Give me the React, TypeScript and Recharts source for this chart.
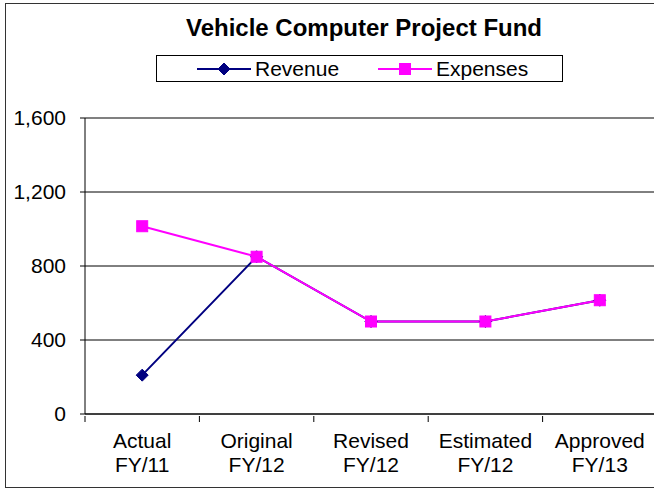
import { CartesianGrid, Legend, Line, LineChart, ReferenceLine, XAxis, YAxis } from 'recharts';

const categories = ['Actual FY/11', 'Original FY/12', 'Revised FY/12', 'Estimated FY/12', 'Approved FY/13'];
const revenue = [210, 850, 500, 500, 615];
const expenses = [1015, 850, 500, 500, 615];
const yTicks = [0, 400, 800, 1200, 1600];

const data = categories.map((name, i) => ({ name, revenue: revenue[i], expenses: expenses[i] }));

const font = '"Liberation Sans", Arial, sans-serif';
const navy = '#000080';
const magenta = '#FF00FF';

const Diamond = ({ cx, cy }: any) => {
    if (cx == null || cy == null) return null;
    const r = 6;
    return <polygon points={`${cx},${cy - r} ${cx + r},${cy} ${cx},${cy + r} ${cx - r},${cy}`} fill={navy} stroke={navy} />;
};

const Square = ({ cx, cy }: any) => {
    if (cx == null || cy == null) return null;
    const s = 11;
    return <rect x={cx - s / 2} y={cy - s / 2} width={s} height={s} fill={magenta} stroke={magenta} />;
};

const CategoryTick = ({ x, y, payload }: any) => {
    const [a, b] = String(payload.value).split(' ');
    const half = payload.offset ?? 0;
    return (
        <g>
            <line x1={x - half} y1={y - 6} x2={x - half} y2={y} stroke="#000" />
            <text x={x} y={y} textAnchor="middle" fontSize={21} fontFamily={font} fill="#000">
                <tspan x={x} dy={26}>{a}</tspan>
                <tspan x={x} dy={24}>{b}</tspan>
            </text>
        </g>
    );
};

const LegendBox = () => (
    <div
        style={{
            width: 405,
            height: 25,
            border: '1px solid #000',
            background: '#fff',
            position: 'relative',
        }}
    >
        <svg width={405} height={25} style={{ position: 'absolute', left: 0, top: 0 }}>
            <line x1={40} y1={13} x2={94} y2={13} stroke={navy} strokeWidth={2} />
            <Diamond cx={67} cy={13} />
            <text x={98} y={20} fontSize={21} fontFamily={font}>Revenue</text>
            <line x1={221} y1={13} x2={275} y2={13} stroke={magenta} strokeWidth={2} />
            <Square cx={248} cy={13} />
            <text x={279} y={20} fontSize={21} fontFamily={font}>Expenses</text>
        </svg>
    </div>
);

export default function App() {
    return (
        <div style={{ position: 'absolute', left: 0, top: 0, width: 654, height: 491, overflow: 'hidden', background: '#fff' }}>
            <div
                style={{
                    position: 'absolute',
                    left: 5,
                    top: 3,
                    width: 800,
                    height: 483,
                    border: '1px solid #333',
                }}
            />
            <div
                style={{
                    position: 'absolute',
                    left: 0,
                    top: 14,
                    width: 728,
                    textAlign: 'center',
                    fontFamily: font,
                    fontWeight: 'bold',
                    fontSize: 24,
                    color: '#000',
                }}
            >
                Vehicle Computer Project Fund
            </div>
            <div style={{ position: 'absolute', left: 0, top: 0 }}>
                <LineChart width={730} height={491} data={data} margin={{ top: 118, right: 73, bottom: 17, left: 0 }}>
                    <CartesianGrid horizontal vertical={false} stroke="#000" />
                    <ReferenceLine y={1600} stroke="#808080" strokeWidth={2} />
                    <XAxis
                        dataKey="name"
                        scale="band"
                        height={60}
                        stroke="#000"
                        tickLine={false}
                        tickSize={6}
                        tick={<CategoryTick />}
                        interval={0}
                    />
                    <YAxis
                        width={85}
                        domain={[0, 1600]}
                        ticks={yTicks}
                        stroke="#000"
                        tickSize={5}
                        tickMargin={14}
                        tick={{ fontSize: 21, fontFamily: font, fill: '#000' }}
                        tickFormatter={(v: number) => v.toLocaleString('en-US')}
                    />
                    <Legend
                        verticalAlign="middle"
                        align="center"
                        content={<LegendBox />}
                        wrapperStyle={{ position: 'absolute', left: 156, top: 55, width: 407 }}
                    />
                    <Line
                        dataKey="revenue"
                        stroke={navy}
                        strokeWidth={2}
                        dot={<Diamond />}
                        activeDot={false}
                        isAnimationActive={false}
                    />
                    <Line
                        dataKey="expenses"
                        stroke={magenta}
                        strokeWidth={2}
                        dot={<Square />}
                        activeDot={false}
                        isAnimationActive={false}
                    />
                </LineChart>
            </div>
        </div>
    );
}
